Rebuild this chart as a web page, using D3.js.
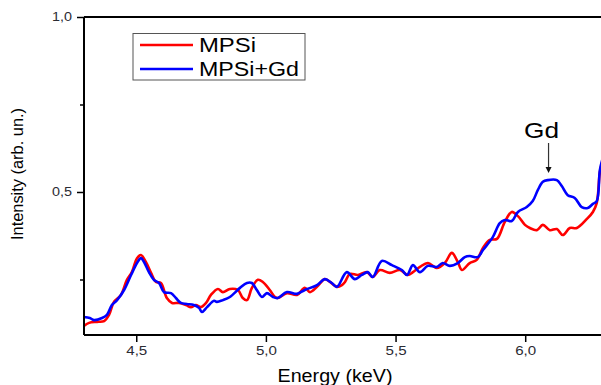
<!DOCTYPE html>
<html>
<head>
<meta charset="utf-8">
<script src="https://cdn.jsdelivr.net/npm/d3@7"></script>
<style>
  html, body { margin: 0; padding: 0; background: #fff; }
  svg { display: block; font-family: Arial, "Liberation Sans", sans-serif; }
</style>
</head>
<body>
<svg id="chart" width="601" height="385"></svg>
<script>
// Energy (keV) and normalised intensity for the bare porous silicon sample
const mpsiEnergy = [4.298, 4.318, 4.349, 4.376, 4.395, 4.414, 4.441, 4.464, 4.483, 4.503, 4.518, 4.537, 4.557, 4.576, 4.595, 4.618, 4.638, 4.665, 4.692, 4.711, 4.730, 4.749, 4.769, 4.788, 4.815, 4.834, 4.861, 4.892, 4.911, 4.927, 4.946, 4.969, 4.988, 5.015, 5.035, 5.046, 5.081, 5.120, 5.150, 5.170, 5.197, 5.227, 5.247, 5.274, 5.293, 5.305, 5.324, 5.355, 5.389, 5.412, 5.439, 5.478, 5.517, 5.547, 5.567, 5.594, 5.625, 5.659, 5.690, 5.717, 5.740, 5.756, 5.786, 5.813, 5.837, 5.863, 5.891, 5.921, 5.948, 5.972, 5.999, 6.018, 6.045, 6.068, 6.095, 6.122, 6.145, 6.172, 6.199, 6.238, 6.261, 6.276, 6.288, 6.299];
const mpsiIntensity = [0.117, 0.126, 0.129, 0.131, 0.149, 0.186, 0.206, 0.249, 0.271, 0.311, 0.320, 0.300, 0.269, 0.243, 0.240, 0.197, 0.183, 0.183, 0.177, 0.171, 0.177, 0.171, 0.183, 0.206, 0.223, 0.214, 0.223, 0.220, 0.197, 0.191, 0.226, 0.249, 0.243, 0.220, 0.200, 0.197, 0.211, 0.206, 0.226, 0.214, 0.229, 0.251, 0.243, 0.229, 0.234, 0.243, 0.266, 0.263, 0.271, 0.257, 0.277, 0.269, 0.277, 0.263, 0.271, 0.286, 0.297, 0.283, 0.297, 0.326, 0.300, 0.277, 0.297, 0.306, 0.340, 0.363, 0.366, 0.414, 0.443, 0.431, 0.406, 0.397, 0.391, 0.406, 0.391, 0.394, 0.377, 0.397, 0.397, 0.423, 0.443, 0.469, 0.557, 0.591];

// Energy (keV) and normalised intensity for the Gd-loaded sample
const gdEnergy = [4.298, 4.321, 4.337, 4.368, 4.387, 4.406, 4.426, 4.453, 4.480, 4.503, 4.518, 4.530, 4.549, 4.568, 4.588, 4.607, 4.634, 4.653, 4.672, 4.695, 4.722, 4.742, 4.753, 4.773, 4.800, 4.811, 4.834, 4.861, 4.900, 4.927, 4.946, 4.965, 4.985, 5.004, 5.027, 5.046, 5.081, 5.120, 5.150, 5.197, 5.227, 5.254, 5.274, 5.312, 5.343, 5.370, 5.393, 5.412, 5.447, 5.486, 5.524, 5.544, 5.567, 5.594, 5.625, 5.659, 5.682, 5.709, 5.740, 5.767, 5.786, 5.817, 5.837, 5.875, 5.902, 5.921, 5.948, 5.972, 6.006, 6.029, 6.049, 6.068, 6.087, 6.122, 6.141, 6.164, 6.191, 6.218, 6.241, 6.261, 6.276, 6.288, 6.299];
const gdIntensity = [0.143, 0.140, 0.134, 0.140, 0.149, 0.177, 0.191, 0.220, 0.263, 0.297, 0.311, 0.300, 0.271, 0.249, 0.240, 0.214, 0.211, 0.197, 0.183, 0.180, 0.177, 0.169, 0.157, 0.171, 0.189, 0.186, 0.191, 0.200, 0.226, 0.240, 0.240, 0.220, 0.200, 0.211, 0.200, 0.197, 0.214, 0.209, 0.220, 0.234, 0.251, 0.240, 0.229, 0.271, 0.251, 0.263, 0.271, 0.257, 0.303, 0.291, 0.277, 0.263, 0.291, 0.271, 0.289, 0.286, 0.297, 0.289, 0.297, 0.314, 0.317, 0.314, 0.334, 0.371, 0.411, 0.420, 0.417, 0.443, 0.457, 0.474, 0.506, 0.529, 0.534, 0.534, 0.517, 0.491, 0.483, 0.457, 0.454, 0.466, 0.474, 0.563, 0.597];

const seriesNames = ["MPSi", "MPSi+Gd"];
const seriesColors = ["#ff0000", "#0000ff"];
const xTickValues = [4.5, 5.0, 5.5, 6.0];
const yTickValues = [0.25, 0.5, 0.75, 1.0];
const yLabelled = [0.5, 1.0];
const peakLabel = { text: "Gd", energy: 6.09, intensity: 0.534 };

const svg = d3.select("#chart");
const plotLeft = 84, plotRight = 603, plotTop = 17, plotBottom = 335;

const x = d3.scaleLinear().domain([4.2985, 6.3]).range([plotLeft, plotRight]);
const y = d3.scaleLinear().domain([0.0914, 1.0]).range([plotBottom, plotTop]);

const comma = v => d3.format(".1f")(v).replace(".", ",");

// clip the traces to the plotting frame
svg.append("defs").append("clipPath").attr("id", "plotClip")
  .append("rect").attr("x", plotLeft).attr("y", plotTop)
  .attr("width", plotRight - plotLeft).attr("height", plotBottom - plotTop);

const series = [
  { name: seriesNames[0], color: seriesColors[0], pts: mpsiEnergy.map((e, i) => [e, mpsiIntensity[i]]) },
  { name: seriesNames[1], color: seriesColors[1], pts: gdEnergy.map((e, i) => [e, gdIntensity[i]]) }
];

const line = d3.line()
  .x(d => x(d[0])).y(d => y(d[1]))
  .curve(d3.curveCatmullRom.alpha(0.5));

const traces = svg.append("g").attr("clip-path", "url(#plotClip)");
series.forEach(s => {
  traces.append("path")
    .attr("d", line(s.pts))
    .attr("fill", "none")
    .attr("stroke", s.color)
    .attr("stroke-width", 2.6)
    .attr("stroke-linejoin", "round")
    .attr("stroke-linecap", "round");
});

// top frame line
svg.append("line").attr("x1", plotLeft).attr("x2", plotRight).attr("y1", plotTop).attr("y2", plotTop)
  .attr("stroke", "#000").attr("stroke-width", 2);

// bottom axis
const xAxis = svg.append("g").attr("transform", `translate(0,${plotBottom})`)
  .call(d3.axisBottom(x).tickValues(xTickValues).tickSize(7).tickPadding(4).tickFormat(comma));
xAxis.select(".domain").attr("stroke-width", 2).attr("d", `M${plotLeft},0H${plotRight}`);
xAxis.selectAll(".tick line").attr("stroke-width", 1.5);
xAxis.selectAll(".tick text")
  .attr("font-size", 12).attr("fill", "#2b2b33")
  .attr("textLength", 21).attr("lengthAdjust", "spacingAndGlyphs");

// left axis: labelled majors, shorter unlabelled minors
const yAxis = svg.append("g").attr("transform", `translate(${plotLeft},0)`)
  .call(d3.axisLeft(y).tickValues(yTickValues).tickSize(7).tickPadding(5)
    .tickFormat(v => yLabelled.includes(v) ? comma(v) : ""));
yAxis.select(".domain").attr("stroke-width", 2).attr("d", `M0,${plotTop}V${plotBottom}`);
yAxis.selectAll(".tick line").attr("stroke-width", 1.5)
  .attr("x2", d => yLabelled.includes(d) ? -7 : -4);
yAxis.selectAll(".tick text")
  .filter(d => !yLabelled.includes(d)).remove();
yAxis.selectAll(".tick text")
  .attr("font-size", 12).attr("fill", "#2b2b33")
  .attr("textLength", 20).attr("lengthAdjust", "spacingAndGlyphs");
svg.selectAll(".tick text").attr("font-family", "Arial, 'Liberation Sans', sans-serif");

// axis titles
svg.append("text")
  .attr("x", 335).attr("y", 382).attr("text-anchor", "middle")
  .attr("font-size", 17.5).attr("fill", "#000")
  .attr("textLength", 115).attr("lengthAdjust", "spacingAndGlyphs")
  .text("Energy (keV)");
svg.append("text")
  .attr("transform", "translate(23,174) rotate(-90)")
  .attr("text-anchor", "middle")
  .attr("font-size", 16.3).attr("fill", "#000")
  .attr("textLength", 132).attr("lengthAdjust", "spacingAndGlyphs")
  .text("Intensity (arb. un.)");

// legend
const legend = svg.append("g");
legend.append("rect")
  .attr("x", 133).attr("y", 33.5).attr("width", 172).attr("height", 46.5)
  .attr("fill", "#fff").attr("stroke", "#555").attr("stroke-width", 1);
const legendLen = [57, 100];
series.forEach((s, i) => {
  const ly = 45 + i * 24;
  legend.append("line")
    .attr("x1", 140).attr("x2", 193).attr("y1", ly).attr("y2", ly)
    .attr("stroke", s.color).attr("stroke-width", 2.6);
  legend.append("text")
    .attr("x", 199).attr("y", ly + 7)
    .attr("font-size", 19.5).attr("fill", "#000")
    .attr("textLength", legendLen[i]).attr("lengthAdjust", "spacingAndGlyphs")
    .text(s.name);
});

// peak annotation with arrow
const px = x(peakLabel.energy), py = y(peakLabel.intensity);
svg.append("text")
  .attr("x", px - 7).attr("y", 138).attr("text-anchor", "middle")
  .attr("font-size", 22).attr("fill", "#000")
  .attr("textLength", 35).attr("lengthAdjust", "spacingAndGlyphs")
  .text(peakLabel.text);
svg.append("line")
  .attr("x1", px).attr("x2", px).attr("y1", 143).attr("y2", py - 12)
  .attr("stroke", "#333").attr("stroke-width", 1.2);
svg.append("path")
  .attr("d", `M${px - 3},${py - 13}L${px + 3},${py - 13}L${px},${py - 7}Z`)
  .attr("fill", "#111");
</script>
</body>
</html>
